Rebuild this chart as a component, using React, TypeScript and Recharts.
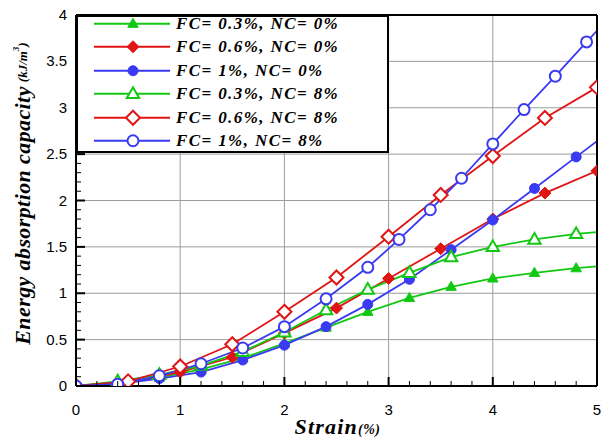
import { Legend, Line, LineChart, ReferenceLine, XAxis, YAxis } from "recharts";

// strain (%) positions for each series
const xStep04 = [0, 0.4, 0.8, 1.2, 1.6, 2.0, 2.4, 2.8, 3.2, 3.6, 4.0, 4.4, 4.8, 5.0];
const xStep05 = [0, 0.5, 1.0, 1.5, 2.0, 2.5, 3.0, 3.5, 4.0, 4.5, 5.0];
const xBlueOpen = [0, 0.4, 0.8, 1.2, 1.6, 2.0, 2.4, 2.8, 3.1, 3.4, 3.7, 4.0, 4.3, 4.6, 4.9, 5.0];

// energy absorption capacity (kJ/m3)
const fc03nc0 = [0, 0.03, 0.09, 0.18, 0.3, 0.46, 0.63, 0.8, 0.95, 1.07, 1.16, 1.22, 1.27, 1.29];
const fc06nc0 = [0, 0.04, 0.15, 0.31, 0.57, 0.84, 1.16, 1.48, 1.8, 2.08, 2.32];
const fc1nc0 = [0, 0.02, 0.08, 0.15, 0.28, 0.44, 0.64, 0.88, 1.15, 1.47, 1.79, 2.13, 2.47, 2.64];
const fc03nc8 = [0, 0.05, 0.12, 0.22, 0.37, 0.58, 0.82, 1.04, 1.22, 1.39, 1.5, 1.58, 1.64, 1.66];
const fc06nc8 = [0, 0.05, 0.21, 0.45, 0.8, 1.17, 1.61, 2.06, 2.48, 2.89, 3.22];
const fc1nc8 = [0, 0.02, 0.11, 0.24, 0.41, 0.64, 0.94, 1.28, 1.58, 1.9, 2.24, 2.61, 2.98, 3.34, 3.71, 3.83];

const xLabels = [0, 1, 2, 3, 4, 5];
const yLabels = [0, 0.5, 1, 1.5, 2, 2.5, 3, 3.5, 4];

const GREEN = "#12c812";
const RED = "#e01414";
const BLUE = "#3a3af2";

type Shape = "triangle" | "diamond" | "circle";

type Series = {
  name: string;
  xs: number[];
  ys: number[];
  color: string;
  shape: Shape;
  filled: boolean;
  lastDot: boolean;
};

const series: Series[] = [
  { name: "FC= 0.3%, NC= 0%", xs: xStep04, ys: fc03nc0, color: GREEN, shape: "triangle", filled: true, lastDot: false },
  { name: "FC= 0.6%, NC= 0%", xs: xStep05, ys: fc06nc0, color: RED, shape: "diamond", filled: true, lastDot: true },
  { name: "FC= 1%, NC= 0%", xs: xStep04, ys: fc1nc0, color: BLUE, shape: "circle", filled: true, lastDot: false },
  { name: "FC= 0.3%, NC= 8%", xs: xStep04, ys: fc03nc8, color: GREEN, shape: "triangle", filled: false, lastDot: false },
  { name: "FC= 0.6%, NC= 8%", xs: xStep05, ys: fc06nc8, color: RED, shape: "diamond", filled: false, lastDot: true },
  { name: "FC= 1%, NC= 8%", xs: xBlueOpen, ys: fc1nc8, color: BLUE, shape: "circle", filled: false, lastDot: false },
];

const xTicks = Array.from({ length: 26 }, (_, i) => i * 0.2);
const yTicks = Array.from({ length: 41 }, (_, i) => i * 0.1);

const serif = "'Liberation Serif', 'Times New Roman', serif";
const sans = "'Liberation Sans', Arial, sans-serif";

function Marker({ cx, cy, shape, color, filled }: { cx: number; cy: number; shape: Shape; color: string; filled: boolean }) {
  const fill = filled ? color : "#fff";
  const sw = filled ? 1 : 2;
  if (shape === "triangle") {
    const r = filled ? 5.5 : 6.5;
    const pts = `${cx},${cy - r} ${cx + r * 0.95},${cy + r * 0.65} ${cx - r * 0.95},${cy + r * 0.65}`;
    return <polygon points={pts} fill={fill} stroke={color} strokeWidth={sw} />;
  }
  if (shape === "diamond") {
    const r = filled ? 6 : 7;
    const pts = `${cx},${cy - r} ${cx + r},${cy} ${cx},${cy + r} ${cx - r},${cy}`;
    return <polygon points={pts} fill={fill} stroke={color} strokeWidth={sw} />;
  }
  return <circle cx={cx} cy={cy} r={filled ? 5 : 5.5} fill={fill} stroke={color} strokeWidth={sw} />;
}

function XTick(props: any) {
  const { x, y, payload } = props;
  const v = payload.value as number;
  const major = Math.abs(v - Math.round(v)) < 1e-6;
  return (
    <g>
      <line x1={x} x2={x} y1={y} y2={y - (major ? 9 : 5)} stroke="#000" strokeWidth={major ? 2 : 1} />
      {major ? (
        <text x={x} y={y + 29} textAnchor="middle" fontFamily={sans} fontSize={15} fill="#000">
          {Math.round(v)}
        </text>
      ) : null}
    </g>
  );
}

function YTick(props: any) {
  const { x, y, payload } = props;
  const v = payload.value as number;
  const major = Math.abs(v * 2 - Math.round(v * 2)) < 1e-6;
  const label = String(Math.round(v * 2) / 2);
  return (
    <g>
      <line x1={x} x2={x + (major ? 9 : 5)} y1={y} y2={y} stroke="#000" strokeWidth={major ? 2 : 1} />
      {major ? (
        <text x={x - 9} y={y + 5} textAnchor="end" fontFamily={sans} fontSize={15} fill="#000">
          {label}
        </text>
      ) : null}
    </g>
  );
}

function YTitle(props: any) {
  const vb = props.viewBox;
  const cx = 22;
  const cy = vb.y + vb.height / 2 - 7;
  return (
    <text
      x={cx}
      y={cy}
      transform={`rotate(-90 ${cx} ${cy})`}
      textAnchor="middle"
      dominantBaseline="central"
      fontFamily={serif}
      fontWeight="bold"
      fontStyle="italic"
      fill="#000"
      fontSize={22}
      letterSpacing={0.4}
    >
      Energy absorption capacity
      <tspan fontSize={13} letterSpacing={0} dx={4}>
        (kJ/m
        <tspan fontSize={9} dy={-6}>3</tspan>
        <tspan dy={6}>)</tspan>
      </tspan>
    </text>
  );
}

function XTitle(props: any) {
  const vb = props.viewBox;
  return (
    <text
      x={vb.x + vb.width / 2 + 1}
      y={vb.y + 48}
      textAnchor="middle"
      fontFamily={serif}
      fontWeight="bold"
      fontStyle="italic"
      fontSize={22}
      letterSpacing={1.2}
      fill="#000"
    >
      Strain
      <tspan fontSize={14} letterSpacing={0.5}>(%)</tspan>
    </text>
  );
}

function LegendBox() {
  return (
    <div
      style={{
        width: 313,
        height: 138,
        boxSizing: "border-box",
        border: "2px solid #000",
        background: "#fff",
        overflow: "hidden",
      }}
    >
      <div style={{ marginTop: -5.5 }}>
        {series.map((s) => (
          <div key={s.name} style={{ height: 23.5, display: "flex", alignItems: "center" }}>
            <svg width={98} height={23.5} style={{ display: "block", flex: "none" }}>
              <line x1={16} x2={92} y1={11.75} y2={11.75} stroke={s.color} strokeWidth={2} />
              <Marker cx={55} cy={11.75} shape={s.shape} color={s.color} filled={s.filled} />
            </svg>
            <span
              style={{
                fontFamily: serif,
                fontWeight: "bold",
                fontStyle: "italic",
                fontSize: 17,
                letterSpacing: 1.4,
                whiteSpace: "nowrap",
                color: "#000",
                lineHeight: "23.5px",
              }}
            >
              {s.name}
            </span>
          </div>
        ))}
      </div>
    </div>
  );
}

export default function App() {
  return (
    <div style={{ position: "absolute", left: 0, top: 0, width: 602, height: 440, background: "#fff" }}>
      <LineChart width={602} height={440} margin={{ top: 15, right: 5, bottom: 0, left: 0 }}>
        <XAxis
          dataKey="x"
          type="number"
          domain={[0, 5]}
          allowDataOverflow
          ticks={xTicks}
          interval={0}
          height={54}
          tickSize={0}
          tickMargin={0}
          tickLine={false}
          axisLine={{ stroke: "#000", strokeWidth: 2 }}
          tick={(p: any) => <XTick {...p} />}
          label={(p: any) => <XTitle {...p} />}
        />
        <YAxis
          dataKey="y"
          type="number"
          domain={[0, 4]}
          allowDataOverflow
          ticks={yTicks}
          interval={0}
          width={76}
          tickSize={0}
          tickMargin={0}
          tickLine={false}
          axisLine={{ stroke: "#000", strokeWidth: 2 }}
          tick={(p: any) => <YTick {...p} />}
          label={(p: any) => <YTitle {...p} />}
        />
        {xLabels.slice(1, -1).map((v) => (
          <ReferenceLine key={`gx${v}`} x={v} stroke="#9c9c9c" strokeWidth={1} />
        ))}
        {yLabels.slice(1, -1).map((v) => (
          <ReferenceLine key={`gy${v}`} y={v} stroke="#9c9c9c" strokeWidth={1} />
        ))}
        {series.map((s) => {
          const data = s.xs.map((x, i) => ({ x, y: s.ys[i] }));
          return (
            <Line
              key={s.name}
              data={data}
              dataKey="y"
              name={s.name}
              type="linear"
              stroke={s.color}
              strokeWidth={1.8}
              isAnimationActive={false}
              dot={(p: any) =>
                !s.lastDot && p.index === data.length - 1 ? (
                  <g key={p.key} />
                ) : (
                  <g key={p.key}>
                    <Marker cx={p.cx} cy={p.cy} shape={s.shape} color={s.color} filled={s.filled} />
                  </g>
                )
              }
              activeDot={false}
            />
          );
        })}
        <ReferenceLine y={4} stroke="#000" strokeWidth={2} />
        <ReferenceLine x={5} stroke="#000" strokeWidth={2} />
        <Legend
          layout="vertical"
          align="center"
          verticalAlign="middle"
          wrapperStyle={{ top: 15, left: 76, width: 313 }}
          content={() => <LegendBox />}
        />
      </LineChart>
    </div>
  );
}
